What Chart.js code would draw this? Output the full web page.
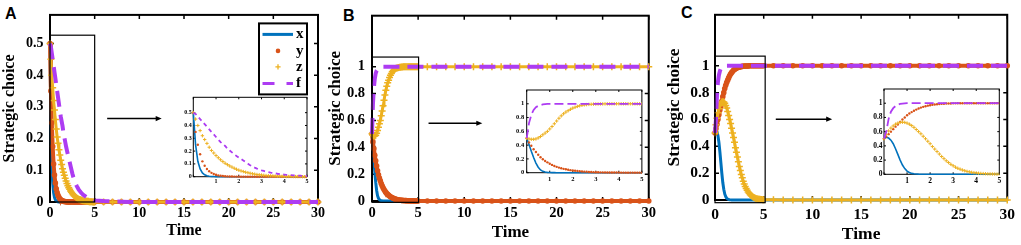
<!DOCTYPE html>
<html>
<head>
<meta charset="utf-8">
<script src="https://cdn.jsdelivr.net/npm/chart.js@4.4.1/dist/chart.umd.min.js"></script>
<style>
  body { margin: 0; background: #fff; width: 1021px; height: 245px; overflow: hidden; position: relative; }
  .box { position: absolute; }
  .box canvas { display: block; }
  .tag { position: absolute; font: bold 16px 'Liberation Sans', Arial, sans-serif; line-height: 16px; color: #000; }
</style>
</head>
<body>
<span class="tag" style="left:5px;top:6px">A</span>
<span class="tag" style="left:343px;top:8px">B</span>
<span class="tag" style="left:681px;top:5px">C</span>

<div class="box" style="left:0px;top:0px"><canvas id="mainA" width="330" height="245"></canvas></div>
<div class="box" style="left:325px;top:0px"><canvas id="mainB" width="335" height="245"></canvas></div>
<div class="box" style="left:664px;top:0px"><canvas id="mainC" width="357" height="245"></canvas></div>
<div class="box" style="left:180px;top:88px"><canvas id="insetA" width="130" height="98"></canvas></div>
<div class="box" style="left:510px;top:82px"><canvas id="insetB" width="136" height="100"></canvas></div>
<div class="box" style="left:866px;top:80px"><canvas id="insetC" width="138" height="104"></canvas></div>

<script>
// time points (0..5 every 0.1, then every 1 up to 30)
const T = [
  0, 0.1, 0.2, 0.3, 0.4, 0.5, 0.6, 0.7, 0.8, 0.9,
  1, 1.1, 1.2, 1.3, 1.4, 1.5, 1.6, 1.7, 1.8, 1.9,
  2, 2.1, 2.2, 2.3, 2.4, 2.5, 2.6, 2.7, 2.8, 2.9,
  3, 3.1, 3.2, 3.3, 3.4, 3.5, 3.6, 3.7, 3.8, 3.9,
  4, 4.1, 4.2, 4.3, 4.4, 4.5, 4.6, 4.7, 4.8, 4.9,
  5, 6, 7, 8, 9, 10, 11, 12, 13, 14,
  15, 16, 17, 18, 19, 20, 21, 22, 23, 24,
  25, 26, 27, 28, 29, 30
];

const names = ['x', 'y', 'z', 'f'];

// panel A
const xA = [
  0.5, 0.25, 0.12, 0.06, 0.03, 0.015, 0.007, 0.004, 0.002, 0.001,
  0, 0, 0, 0, 0, 0, 0, 0, 0, 0,
  0, 0, 0, 0, 0, 0, 0, 0, 0, 0,
  0, 0, 0, 0, 0, 0, 0, 0, 0, 0,
  0, 0, 0, 0, 0, 0, 0, 0, 0, 0,
  0, 0, 0, 0, 0, 0, 0, 0, 0, 0,
  0, 0, 0, 0, 0, 0, 0, 0, 0, 0,
  0, 0, 0, 0, 0, 0
];
const yA = [
  0.5, 0.35, 0.25, 0.175, 0.12, 0.085, 0.06, 0.042, 0.03, 0.021,
  0.015, 0.01, 0.007, 0.005, 0.0035, 0.0025, 0.0018, 0.0012, 0.0008, 0.0005,
  0.0003, 0.0002, 0.0001, 0, 0, 0, 0, 0, 0, 0,
  0, 0, 0, 0, 0, 0, 0, 0, 0, 0,
  0, 0, 0, 0, 0, 0, 0, 0, 0, 0,
  0, 0, 0, 0, 0, 0, 0, 0, 0, 0,
  0, 0, 0, 0, 0, 0, 0, 0, 0, 0,
  0, 0, 0, 0, 0, 0
];
const zA = [
  0.5, 0.45, 0.4, 0.36, 0.32, 0.29, 0.26, 0.23, 0.205, 0.185,
  0.165, 0.148, 0.132, 0.118, 0.105, 0.094, 0.084, 0.075, 0.066, 0.058,
  0.051, 0.045, 0.04, 0.035, 0.031, 0.027, 0.023, 0.02, 0.017, 0.015,
  0.013, 0.011, 0.009, 0.008, 0.007, 0.006, 0.005, 0.004, 0.004, 0.003,
  0.003, 0.002, 0.002, 0.002, 0.001, 0.001, 0.001, 0.001, 0, 0,
  0, 0, 0, 0, 0, 0, 0, 0, 0, 0,
  0, 0, 0, 0, 0, 0, 0, 0, 0, 0,
  0, 0, 0, 0, 0, 0
];
const fA = [
  0.5, 0.49, 0.47, 0.45, 0.43, 0.41, 0.39, 0.37, 0.35, 0.33,
  0.31, 0.29, 0.27, 0.255, 0.24, 0.22, 0.205, 0.19, 0.175, 0.162,
  0.15, 0.138, 0.126, 0.114, 0.102, 0.09, 0.08, 0.071, 0.063, 0.056,
  0.05, 0.045, 0.04, 0.036, 0.032, 0.029, 0.026, 0.023, 0.021, 0.019,
  0.017, 0.015, 0.013, 0.012, 0.011, 0.01, 0.009, 0.008, 0.007, 0.006,
  0.005, 0.003, 0.002, 0.001, 0, 0, 0, 0, 0, 0,
  0, 0, 0, 0, 0, 0, 0, 0, 0, 0,
  0, 0, 0, 0, 0, 0
];

// panel B
const xB = [
  0.5, 0.41, 0.31, 0.22, 0.14, 0.08, 0.04, 0.02, 0.01, 0.005,
  0.003, 0.0015, 0.0007, 0.0003, 0, 0, 0, 0, 0, 0,
  0, 0, 0, 0, 0, 0, 0, 0, 0, 0,
  0, 0, 0, 0, 0, 0, 0, 0, 0, 0,
  0, 0, 0, 0, 0, 0, 0, 0, 0, 0,
  0, 0, 0, 0, 0, 0, 0, 0, 0, 0,
  0, 0, 0, 0, 0, 0, 0, 0, 0, 0,
  0, 0, 0, 0, 0, 0
];
const yB = [
  0.5, 0.44, 0.39, 0.34, 0.3, 0.26, 0.225, 0.195, 0.17, 0.15,
  0.13, 0.113, 0.098, 0.085, 0.074, 0.064, 0.056, 0.049, 0.042, 0.037,
  0.032, 0.028, 0.024, 0.021, 0.018, 0.015, 0.013, 0.011, 0.0095, 0.008,
  0.007, 0.006, 0.005, 0.0045, 0.004, 0.0035, 0.003, 0.0025, 0.002, 0.002,
  0.0015, 0.0015, 0.001, 0.001, 0.001, 0.001, 0.0005, 0.0005, 0.0005, 0.0005,
  0, 0, 0, 0, 0, 0, 0, 0, 0, 0,
  0, 0, 0, 0, 0, 0, 0, 0, 0, 0,
  0, 0, 0, 0, 0, 0
];
const zB = [
  0.5, 0.49, 0.485, 0.485, 0.49, 0.505, 0.525, 0.55, 0.575, 0.6,
  0.635, 0.67, 0.71, 0.75, 0.79, 0.825, 0.855, 0.88, 0.9, 0.92,
  0.937, 0.95, 0.962, 0.971, 0.978, 0.984, 0.988, 0.991, 0.993, 0.995,
  0.996, 0.997, 0.998, 0.998, 0.999, 0.999, 0.999, 1, 1, 1,
  1, 1, 1, 1, 1, 1, 1, 1, 1, 1,
  1, 1, 1, 1, 1, 1, 1, 1, 1, 1,
  1, 1, 1, 1, 1, 1, 1, 1, 1, 1,
  1, 1, 1, 1, 1, 1
];
const fB = [
  0.5, 0.72, 0.84, 0.91, 0.95, 0.97, 0.98, 0.99, 0.995, 0.998,
  1, 1, 1, 1, 1, 1, 1, 1, 1, 1,
  1, 1, 1, 1, 1, 1, 1, 1, 1, 1,
  1, 1, 1, 1, 1, 1, 1, 1, 1, 1,
  1, 1, 1, 1, 1, 1, 1, 1, 1, 1,
  1, 1, 1, 1, 1, 1, 1, 1, 1, 1,
  1, 1, 1, 1, 1, 1, 1, 1, 1, 1,
  1, 1, 1, 1, 1, 1
];

// panel C
const xC = [
  0.5, 0.52, 0.51, 0.48, 0.43, 0.36, 0.28, 0.2, 0.13, 0.08,
  0.045, 0.025, 0.013, 0.007, 0.004, 0.002, 0.001, 0, 0, 0,
  0, 0, 0, 0, 0, 0, 0, 0, 0, 0,
  0, 0, 0, 0, 0, 0, 0, 0, 0, 0,
  0, 0, 0, 0, 0, 0, 0, 0, 0, 0,
  0, 0, 0, 0, 0, 0, 0, 0, 0, 0,
  0, 0, 0, 0, 0, 0, 0, 0, 0, 0,
  0, 0, 0, 0, 0, 0
];
const yC = [
  0.5, 0.53, 0.565, 0.6, 0.635, 0.67, 0.7, 0.735, 0.77, 0.8,
  0.83, 0.855, 0.875, 0.893, 0.91, 0.925, 0.938, 0.949, 0.958, 0.966,
  0.972, 0.978, 0.982, 0.986, 0.989, 0.991, 0.993, 0.995, 0.996, 0.997,
  0.998, 0.998, 0.999, 0.999, 0.999, 1, 1, 1, 1, 1,
  1, 1, 1, 1, 1, 1, 1, 1, 1, 1,
  1, 1, 1, 1, 1, 1, 1, 1, 1, 1,
  1, 1, 1, 1, 1, 1, 1, 1, 1, 1,
  1, 1, 1, 1, 1, 1
];
const zC = [
  0.5, 0.56, 0.61, 0.65, 0.68, 0.705, 0.72, 0.73, 0.733, 0.73,
  0.72, 0.705, 0.685, 0.66, 0.63, 0.6, 0.57, 0.535, 0.5, 0.465,
  0.43, 0.39, 0.355, 0.32, 0.285, 0.25, 0.22, 0.19, 0.165, 0.14,
  0.12, 0.1, 0.085, 0.072, 0.06, 0.05, 0.041, 0.034, 0.028, 0.023,
  0.019, 0.015, 0.012, 0.01, 0.008, 0.006, 0.005, 0.004, 0.003, 0.002,
  0.002, 0.001, 0.0005, 0, 0, 0, 0, 0, 0, 0,
  0, 0, 0, 0, 0, 0, 0, 0, 0, 0,
  0, 0, 0, 0, 0, 0
];
const fC = [
  0.5, 0.6, 0.78, 0.88, 0.93, 0.96, 0.98, 0.99, 0.995, 0.998,
  1, 1, 1, 1, 1, 1, 1, 1, 1, 1,
  1, 1, 1, 1, 1, 1, 1, 1, 1, 1,
  1, 1, 1, 1, 1, 1, 1, 1, 1, 1,
  1, 1, 1, 1, 1, 1, 1, 1, 1, 1,
  1, 1, 1, 1, 1, 1, 1, 1, 1, 1,
  1, 1, 1, 1, 1, 1, 1, 1, 1, 1,
  1, 1, 1, 1, 1, 1
];

// tick values
const xTicksMain = [0, 5, 10, 15, 20, 25, 30];
const xTicksInset = [0, 1, 2, 3, 4, 5];
const yTicksA = [0, 0.1, 0.2, 0.3, 0.4, 0.5];
const yTicksBC = [0, 0.2, 0.4, 0.6, 0.8, 1];

const BLUE = '#0072BD', RED = '#D95319', ORANGE = '#EDB120', PURPLE = '#AD3CF2';
const SERIF = "'Liberation Serif', 'Times New Roman', serif";

function pts(vals) {
  return T.map((t, i) => ({ x: t, y: vals[i] }));
}

// box with inward ticks on all four sides (drawn under the curves)
const framePlugin = {
  id: 'frame',
  beforeDatasetsDraw(chart, args, o) {
    const { ctx, chartArea: a, scales } = chart;
    ctx.save();
    if (o.fill) {
      ctx.fillStyle = o.fill;
      ctx.fillRect(a.left, a.top, a.width, a.height);
    }
    ctx.strokeStyle = '#000';
    ctx.lineWidth = o.width;
    ctx.strokeRect(a.left, a.top, a.width, a.height);
    ctx.beginPath();
    scales.x.ticks.forEach(t => {
      const px = scales.x.getPixelForValue(t.value);
      ctx.moveTo(px, a.top); ctx.lineTo(px, a.top + o.tick);
      ctx.moveTo(px, a.bottom); ctx.lineTo(px, a.bottom - o.tick);
    });
    scales.y.ticks.forEach(t => {
      const py = scales.y.getPixelForValue(t.value);
      ctx.moveTo(a.left, py); ctx.lineTo(a.left + o.tick, py);
      ctx.moveTo(a.right, py); ctx.lineTo(a.right - o.tick, py);
    });
    ctx.lineWidth = o.tickWidth;
    ctx.stroke();
    ctx.restore();
  }
};

// zoom rectangle and arrow pointing at the inset
const calloutPlugin = {
  id: 'callout',
  afterDatasetsDraw(chart, args, o) {
    if (!o.box) return;
    const { ctx, scales: { x, y } } = chart;
    ctx.save();
    ctx.strokeStyle = '#000';
    ctx.lineWidth = 1.2;
    const bx0 = x.getPixelForValue(o.box.x[0]), bx1 = x.getPixelForValue(o.box.x[1]);
    const by0 = y.getPixelForValue(o.box.y[0]), by1 = y.getPixelForValue(o.box.y[1]);
    ctx.strokeRect(bx0, by1, bx1 - bx0, by0 - by1);
    const ax0 = x.getPixelForValue(o.arrow.x[0]), ax1 = x.getPixelForValue(o.arrow.x[1]);
    const ay = y.getPixelForValue(o.arrow.y);
    ctx.lineWidth = 1.5;
    ctx.beginPath();
    ctx.moveTo(ax0, ay); ctx.lineTo(ax1 - 4, ay);
    ctx.stroke();
    ctx.fillStyle = '#000';
    ctx.beginPath();
    ctx.moveTo(ax1, ay); ctx.lineTo(ax1 - 6, ay - 2.6); ctx.lineTo(ax1 - 6, ay + 2.6);
    ctx.closePath();
    ctx.fill();
    ctx.restore();
  }
};

// legend box of panel A
const keyPlugin = {
  id: 'seriesKey',
  afterDraw(chart, args, o) {
    if (!o.show) return;
    const { ctx, chartArea: a } = chart;
    const x1 = a.right - 11, x0 = x1 - 48, y0 = a.top + 8.5, y1 = y0 + 71;
    ctx.save();
    ctx.fillStyle = '#fff';
    ctx.fillRect(x0, y0, x1 - x0, y1 - y0);
    ctx.strokeStyle = '#000';
    ctx.lineWidth = 2;
    ctx.strokeRect(x0, y0, x1 - x0, y1 - y0);
    const rows = [11, 27.5, 43.5, 60];
    const sx0 = x0 + 3.5, sx1 = x0 + 34, sc = x0 + 19;
    chart.data.datasets.forEach((ds, i) => {
      const yy = y0 + rows[i];
      ctx.strokeStyle = ds.borderColor;
      ctx.fillStyle = ds.borderColor;
      if (i === 0 || i === 3) {
        ctx.lineWidth = 3;
        ctx.setLineDash(i === 3 ? [12, 12] : []);
        ctx.beginPath(); ctx.moveTo(sx0, yy); ctx.lineTo(sx1, yy); ctx.stroke();
        ctx.setLineDash([]);
      } else if (i === 1) {
        ctx.beginPath(); ctx.arc(sc, yy, 2.3, 0, Math.PI * 2); ctx.fill();
      } else {
        ctx.lineWidth = 1.3;
        ctx.beginPath();
        ctx.moveTo(sc - 2.6, yy); ctx.lineTo(sc + 2.6, yy);
        ctx.moveTo(sc, yy - 2.6); ctx.lineTo(sc, yy + 2.6);
        ctx.stroke();
      }
      ctx.fillStyle = '#000';
      ctx.font = 'bold 15px ' + SERIF;
      ctx.textBaseline = 'middle';
      ctx.textAlign = 'left';
      ctx.fillText(ds.label, x0 + 37, yy);
    });
    ctx.restore();
  }
};

function mainSets(s) {
  return [
    { label: names[0], data: pts(s[0]), borderColor: BLUE, borderWidth: 3, pointRadius: 0, order: 4, clip: false },
    { label: names[1], data: pts(s[1]), borderColor: RED, borderWidth: 4, pointRadius: 2.8, pointBorderWidth: 0,
      pointBackgroundColor: RED, order: 3, clip: false },
    { label: names[2], data: pts(s[2]), borderColor: ORANGE, borderWidth: 3, pointStyle: 'cross', pointRadius: 3.5,
      pointBorderWidth: 1.5, pointBorderColor: ORANGE, order: 2, clip: false },
    { label: names[3], data: pts(s[3]), borderColor: PURPLE, borderWidth: 4, borderDash: [16, 8], pointRadius: 0,
      order: 1, clip: false }
  ];
}

function insetSets(s, dash) {
  const clip = { left: 3, top: 3, right: 0, bottom: 3 };
  return [
    { label: names[0], data: pts(s[0]), borderColor: BLUE, borderWidth: 1.6, pointRadius: 0, order: 4, clip },
    { label: names[1], data: pts(s[1]), showLine: false, pointRadius: 1.2, pointBorderWidth: 0,
      pointBackgroundColor: RED, order: 3, clip },
    { label: names[2], data: pts(s[2]), showLine: false, pointStyle: 'cross', pointRadius: 1.7,
      pointBorderWidth: 1, pointBorderColor: ORANGE, order: 2, clip },
    { label: names[3], data: pts(s[3]), borderColor: PURPLE, borderWidth: 1.8, borderDash: dash, pointRadius: 0,
      order: 1, clip }
  ];
}

function makeMain(id, series, c) {
  const tickFont = { family: SERIF, size: c.tickSize, weight: 'bold' };
  const titleFont = { family: SERIF, size: c.titleSize, weight: 'bold' };
  return new Chart(document.getElementById(id), {
    type: 'line',
    data: { datasets: mainSets(series) },
    options: {
      responsive: false,
      animation: false,
      events: [],
      layout: { autoPadding: false, padding: { top: c.top, right: c.right, left: 0, bottom: 0 } },
      plugins: {
        legend: { display: false },
        tooltip: { enabled: false },
        frame: { width: 2, tick: 4, tickWidth: 1.5 },
        callout: { box: c.box, arrow: c.arrow },
        seriesKey: { show: !!c.key }
      },
      scales: {
        x: {
          type: 'linear', min: 0, max: 30,
          afterBuildTicks: s => { s.ticks = xTicksMain.map(v => ({ value: v })); },
          afterFit: s => { s.height = c.xh; },
          grid: { display: false, drawTicks: false },
          border: { display: false },
          ticks: { font: tickFont, color: '#000', padding: c.xpad, maxRotation: 0, autoSkip: false, callback: v => String(v) },
          title: { display: true, text: 'Time', font: titleFont, color: '#000', padding: { top: 0, bottom: c.tpad } }
        },
        y: {
          type: 'linear', min: 0, max: c.ymax,
          afterBuildTicks: s => { s.ticks = c.yTicks.map(v => ({ value: v })); },
          afterFit: s => { s.width = c.yw; },
          grid: { display: false, drawTicks: false },
          border: { display: false },
          ticks: { font: tickFont, color: '#000', padding: c.ypad, autoSkip: false, callback: v => String(v) },
          title: { display: true, text: 'Strategic choice', font: titleFont, color: '#000', padding: { top: c.ytpad, bottom: 0 } }
        }
      }
    },
    plugins: [framePlugin, calloutPlugin, keyPlugin]
  });
}

function makeInset(id, series, c) {
  const tickFont = { family: SERIF, size: c.tickSize, weight: 'bold' };
  return new Chart(document.getElementById(id), {
    type: 'line',
    data: { datasets: insetSets(series, c.dash) },
    options: {
      responsive: false,
      animation: false,
      events: [],
      layout: { autoPadding: false, padding: { top: c.top, right: c.right, left: 0, bottom: 0 } },
      plugins: {
        legend: { display: false },
        tooltip: { enabled: false },
        frame: { width: 1, tick: 2, tickWidth: 1, fill: '#fff' }
      },
      scales: {
        x: {
          type: 'linear', min: 0, max: 5,
          afterBuildTicks: s => { s.ticks = xTicksInset.map(v => ({ value: v })); },
          afterFit: s => { s.height = c.xh; },
          grid: { display: false, drawTicks: false },
          border: { display: false },
          ticks: { font: tickFont, color: '#000', padding: c.xpad, maxRotation: 0, autoSkip: false,
                   callback: v => (v === 0 ? '' : String(v)) }
        },
        y: {
          type: 'linear', min: 0, max: c.ymax,
          afterBuildTicks: s => { s.ticks = c.yTicks.map(v => ({ value: v })); },
          afterFit: s => { s.width = c.yw; },
          grid: { display: false, drawTicks: false },
          border: { display: false },
          ticks: { font: tickFont, color: '#000', padding: c.ypad, autoSkip: false, callback: v => String(v) }
        }
      }
    },
    plugins: [framePlugin]
  });
}

makeMain('mainA', [xA, yA, zA, fA], {
  top: 10, right: 12, yw: 50, xh: 43, ymax: 0.59, yTicks: yTicksA,
  tickSize: 14, titleSize: 16, xpad: 3, ypad: 6.5, tpad: 5, ytpad: 0.5,
  box: { x: [0, 5], y: [0, 0.526] }, arrow: { x: [6.4, 12.5], y: 0.263 }, key: true
});
makeMain('mainB', [xB, yB, zB, fB], {
  top: 9, right: 7, yw: 47, xh: 44, ymax: 1.38, yTicks: yTicksBC,
  tickSize: 14.5, titleSize: 17, xpad: 4, ypad: 7, tpad: 2, ytpad: 0.5,
  box: { x: [0, 5.05], y: [-0.01, 1.072] }, arrow: { x: [6.13, 11.96], y: 0.579 }
});
makeMain('mainC', [xC, yC, zC, fC], {
  top: 9, right: 9, yw: 51, xh: 45, ymax: 1.38, yTicks: yTicksBC,
  tickSize: 15.5, titleSize: 17.5, xpad: 6, ypad: 5.5, tpad: 0, ytpad: 0,
  box: { x: [0, 5.15], y: [-0.02, 1.072] }, arrow: { x: [6.24, 12.03], y: 0.602 }
});

makeInset('insetA', [xA, yA, zA, fA], {
  top: 9.3, right: 3, yw: 13.3, xh: 9.3, ymax: 0.62, yTicks: yTicksA,
  tickSize: 6, xpad: 1.2, ypad: 1.5, dash: [4, 3.5]
});
makeInset('insetB', [xB, yB, zB, fB], {
  top: 8, right: 3.3, yw: 16.7, xh: 9.3, ymax: 1.2, yTicks: yTicksBC,
  tickSize: 6.5, xpad: 2.5, ypad: 2.5, dash: [9, 4]
});
makeInset('insetC', [xC, yC, zC, fC], {
  top: 9, right: 4.7, yw: 18, xh: 9.7, ymax: 1.2, yTicks: yTicksBC,
  tickSize: 7.5, xpad: 2.5, ypad: 1.5, dash: [9, 4]
});
</script>
</body>
</html>
